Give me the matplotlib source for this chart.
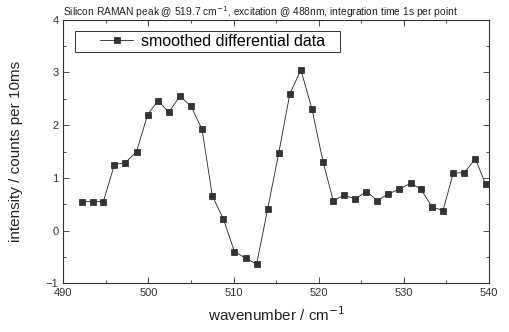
import numpy as np
import matplotlib.pyplot as plt
from matplotlib.ticker import MultipleLocator
from matplotlib.patches import Rectangle

plt.rcParams['font.family'] = ['Liberation Sans', 'DejaVu Sans']

wavenumber = [492.2, 493.5, 494.7, 496.0, 497.3, 498.6, 499.9, 501.1, 502.4, 503.7,
              505.0, 506.3, 507.5, 508.8, 510.1, 511.4, 512.7, 514.0, 515.3, 516.6,
              517.9, 519.2, 520.5, 521.7, 523.0, 524.3, 525.6, 526.9, 528.1, 529.4,
              530.8, 532.0, 533.3, 534.6, 535.8, 537.1, 538.4, 539.6]
intensity = [0.55, 0.55, 0.55, 1.25, 1.29, 1.50, 2.20, 2.46, 2.25, 2.55,
             2.36, 1.92, 0.66, 0.22, -0.40, -0.52, -0.64, 0.41, 1.47, 2.59,
             3.05, 2.31, 1.31, 0.57, 0.67, 0.60, 0.74, 0.57, 0.69, 0.78,
             0.90, 0.79, 0.45, 0.38, 1.09, 1.10, 1.36, 0.88]

fig = plt.figure(figsize=(5.09, 3.32), dpi=100)
ax = fig.add_axes([0.1244, 0.1467, 0.8363, 0.7937])

ax.plot(wavenumber, intensity, color='#222222', lw=0.6, marker='s', ms=4.5,
        mfc='#333333', mec='#222222', mew=0.5, label='smoothed differential data')

ax.set_xlim(490, 540)
ax.set_ylim(-1, 4)
ax.xaxis.set_major_locator(MultipleLocator(10))
ax.xaxis.set_minor_locator(MultipleLocator(5))
ax.yaxis.set_major_locator(MultipleLocator(1))
ax.yaxis.set_minor_locator(MultipleLocator(0.5))
ax.tick_params(which='both', direction='in', top=True, right=True, labelsize=8,
               colors='#333333', width=0.6)
ax.tick_params(which='major', length=4)
ax.tick_params(which='minor', length=2)
for s in ax.spines.values():
    s.set_linewidth(0.8)
    s.set_color('#333333')

ax.set_xlabel('wavenumber / cm$^{-1}$', fontsize=11, color='#222222', labelpad=5)
ax.set_ylabel('intensity / counts per 10ms', fontsize=11, color='#222222', labelpad=16)
ax.set_title('Silicon RAMAN peak @ 519.7 cm$^{-1}$, excitation @ 488nm, integration time 1s per point',
             fontsize=7.4, loc='left', color='#222222', pad=1)

# legend box drawn separately (wide frame with extra left space, like the original)
ax.add_patch(Rectangle((0.0275, 0.878), 0.6225, 0.0795, transform=ax.transAxes,
                       fill=False, ec='#333333', lw=0.7, zorder=5))
leg = ax.legend(loc='center left', bbox_to_anchor=(0.086, 0.918), fontsize=11.5,
                frameon=False, handlelength=2.1, handletextpad=0.45,
                borderpad=0, borderaxespad=0)

fig.savefig('out.png', dpi=100)
